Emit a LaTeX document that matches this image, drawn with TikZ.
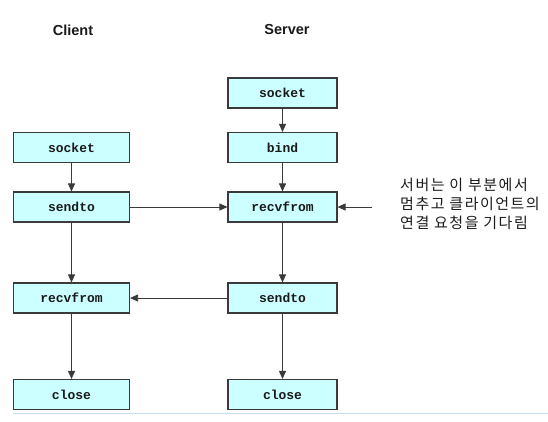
\documentclass[tikz,border=0pt]{standalone}
\usepackage{fontspec}
\setmainfont{Liberation Sans}
\setmonofont{Liberation Mono}
\newfontfamily\krfont[LetterSpace=10]{Noto Sans CJK KR}
\usetikzlibrary{arrows.meta,positioning}
\definecolor{Ink}{HTML}{1A1A1A}
\definecolor{Line}{HTML}{3A3A3A}
\definecolor{Cyan}{HTML}{CCFFFF}
\definecolor{Rule}{HTML}{C9DDF0}
\tikzset{callbox/.style={draw=Line,fill=Cyan,line width=1.1pt,minimum height=30pt,
    inner sep=0pt,font=\ttfamily\bfseries\fontsize{13}{15}\selectfont,text=Ink},
  clientbox/.style={callbox,minimum width=116pt},
  serverbox/.style={callbox,minimum width=109pt},
  title/.style={font=\bfseries\fontsize{14.5}{17}\selectfont,text=Ink},
  edge/.style={-{Triangle[length=8pt,width=7pt]},line width=0.8pt,draw=Line}}
\begin{document}
\begin{tikzpicture}[x=1pt,y=-1pt]
    \useasboundingbox (0,0) rectangle (548,421);
    % column titles
    \node[title] (ctitle) at (73,30) {Client};
    \node[title] (stitle) at (287,30) {Server};
    % client calls
    \node[clientbox] (csocket) at (71.5,147.5) {socket};
    \node[clientbox] (csend) at (71.5,207) {sendto};
    \node[clientbox] (crecv) at (71.5,298) {recvfrom};
    \node[clientbox] (cclose) at (71.5,394.5) {close};
    % server calls
    \node[serverbox] (ssocket) at (282.5,93) {socket};
    \node[serverbox] (sbind) at (282.5,147.5) {bind};
    \node[serverbox] (srecv) at (282.5,207) {recvfrom};
    \node[serverbox] (ssend) at (282.5,298) {sendto};
    \node[serverbox] (sclose) at (282.5,394.5) {close};
    % note
    \node[align=left,anchor=west,inner sep=0pt,text=Ink,
      font=\krfont\fontsize{15}{19}\selectfont] (note) at (400,204)
      {서버는 이 부분에서\\멈추고 클라이언트의\\연결 요청을 기다림};
    \coordinate (notein) at (372,207);
    \draw[edge] (csocket) -- (csend);
    \draw[edge] (csend) -- (crecv);
    \draw[edge] (crecv) -- (cclose);
    \draw[edge] (ssocket) -- (sbind);
    \draw[edge] (sbind) -- (srecv);
    \draw[edge] (srecv) -- (ssend);
    \draw[edge] (ssend) -- (sclose);
    \draw[edge] (csend) -- (srecv);
    \draw[edge] (ssend) -- (crecv);
    \draw[edge] (notein) -- (srecv);
    \draw[draw=Rule,line width=1pt] (13,413) -- (548,413);
  \end{tikzpicture}
\end{document}
